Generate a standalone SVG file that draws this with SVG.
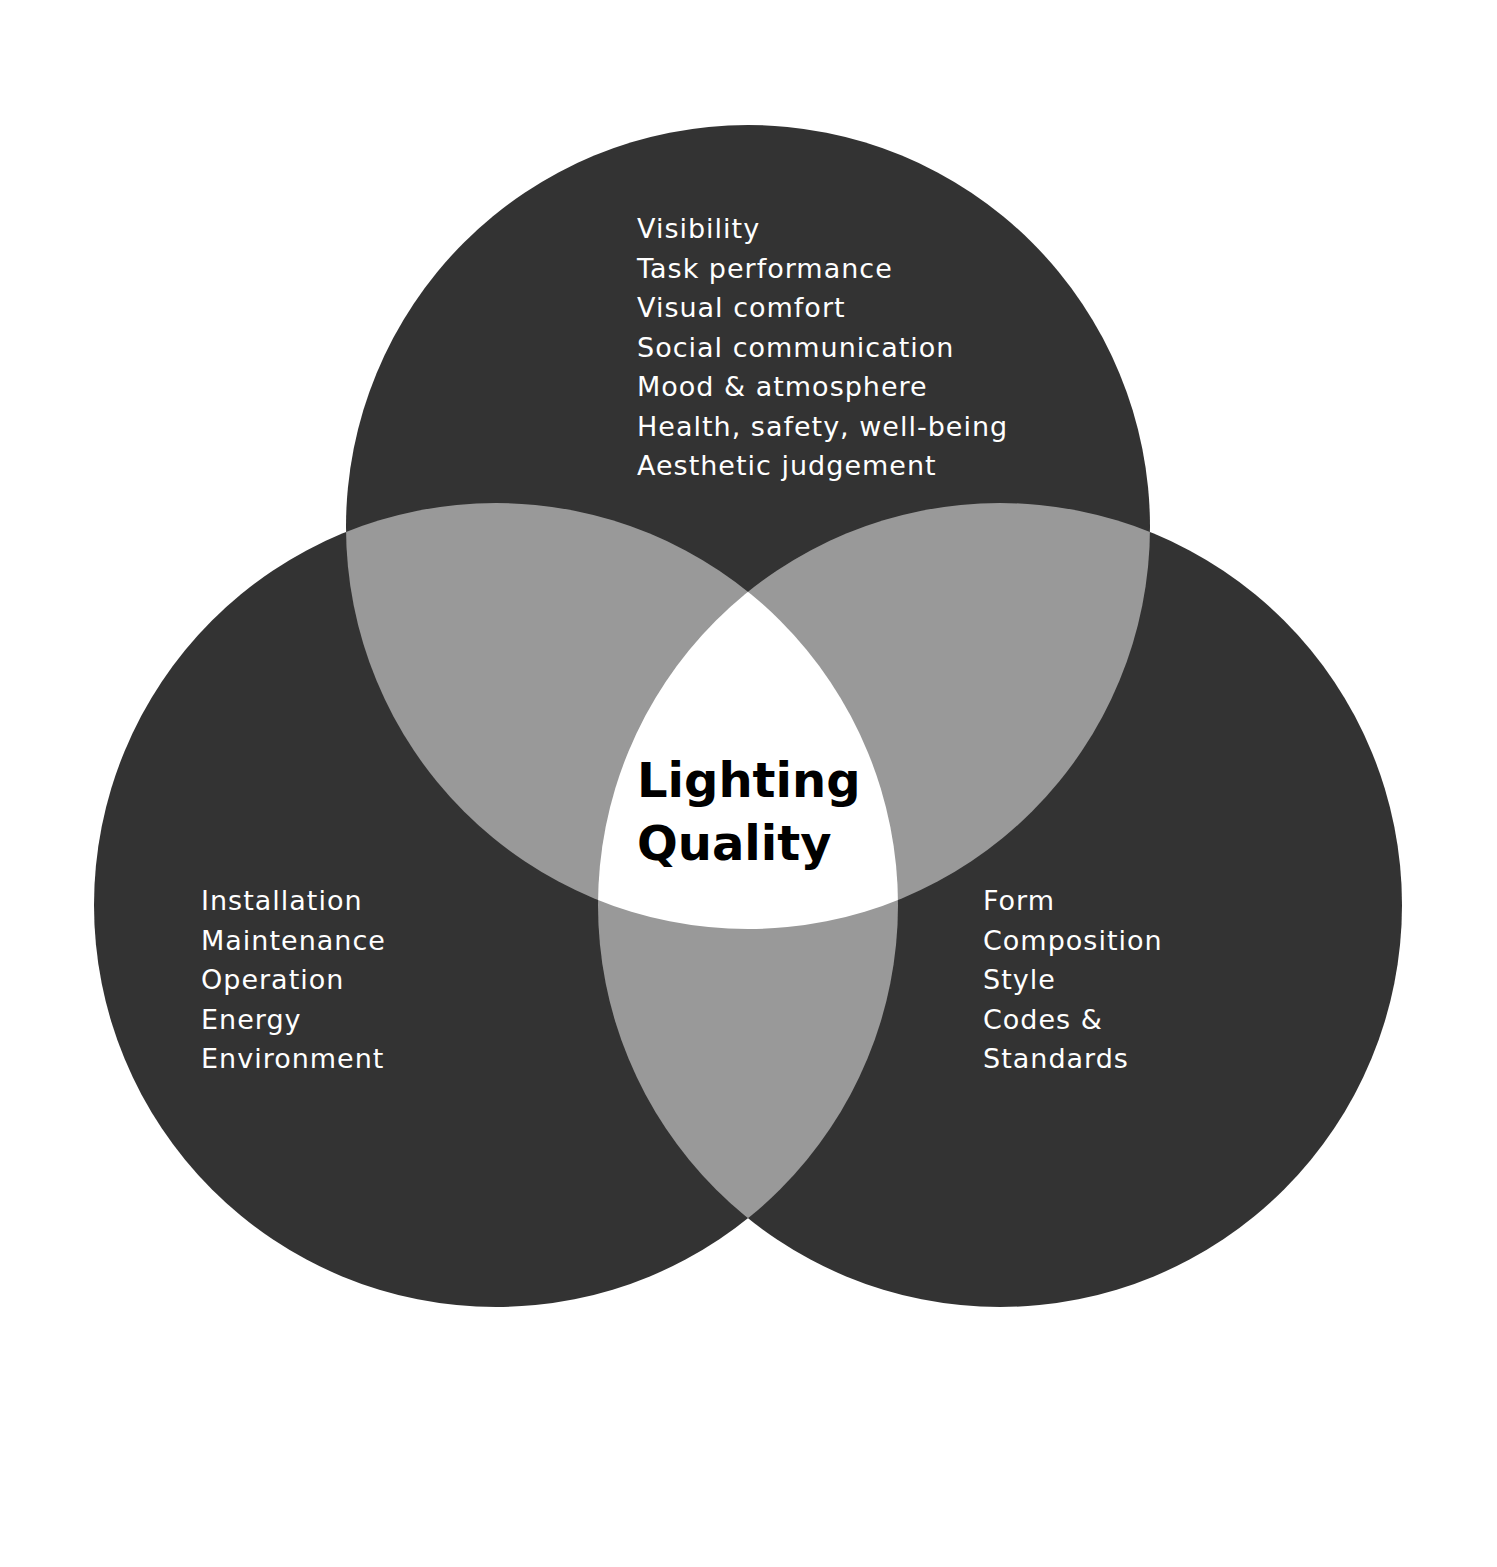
<svg xmlns="http://www.w3.org/2000/svg" width="1497" height="1567" viewBox="0 0 1497 1567">
<style>
.c{fill:#333333}
.g{fill:#999999}
.w{fill:#ffffff}
.t{font-family:"DejaVu Sans","Open Sans",sans-serif;font-size:27px;letter-spacing:1px;fill:#ffffff}
.h{font-family:"DejaVu Sans","Open Sans",sans-serif;font-size:48px;font-weight:bold;fill:#000000}
</style>
<defs>
<clipPath id="cT"><circle cx="748" cy="527" r="402"/></clipPath>
<clipPath id="cL"><circle cx="496" cy="905" r="402"/></clipPath>
<clipPath id="cR"><circle cx="1000" cy="905" r="402"/></clipPath>
</defs>
<rect width="1497" height="1567" fill="#ffffff"/>
<g id="circle-top"><circle class="c" cx="748" cy="527" r="402"/></g>
<g id="circle-left"><circle class="c" cx="496" cy="905" r="402"/></g>
<g id="circle-right"><circle class="c" cx="1000" cy="905" r="402"/></g>
<g id="overlaps">
<g clip-path="url(#cT)"><circle class="g" cx="496" cy="905" r="402"/><circle class="g" cx="1000" cy="905" r="402"/></g>
<g clip-path="url(#cL)"><circle class="g" cx="1000" cy="905" r="402"/></g>
<g clip-path="url(#cT)"><g clip-path="url(#cL)"><circle class="w" cx="1000" cy="905" r="402"/></g></g>
</g>
<g id="text-top" class="t">
<text x="637" y="238">Visibility</text>
<text x="637" y="277.5">Task performance</text>
<text x="637" y="317">Visual comfort</text>
<text x="637" y="356.5">Social communication</text>
<text x="637" y="396">Mood &amp; atmosphere</text>
<text x="637" y="435.5">Health, safety, well-being</text>
<text x="637" y="475">Aesthetic judgement</text>
</g>
<g id="text-left" class="t">
<text x="201" y="910">Installation</text>
<text x="201" y="949.5">Maintenance</text>
<text x="201" y="989">Operation</text>
<text x="201" y="1028.5">Energy</text>
<text x="201" y="1068">Environment</text>
</g>
<g id="text-right" class="t">
<text x="983" y="910">Form</text>
<text x="983" y="949.5">Composition</text>
<text x="983" y="989">Style</text>
<text x="983" y="1028.5">Codes &amp;</text>
<text x="983" y="1068">Standards</text>
</g>
<g id="center" class="h">
<text x="637" y="797">Lighting</text>
<text x="637" y="860">Quality</text>
</g>
</svg>
